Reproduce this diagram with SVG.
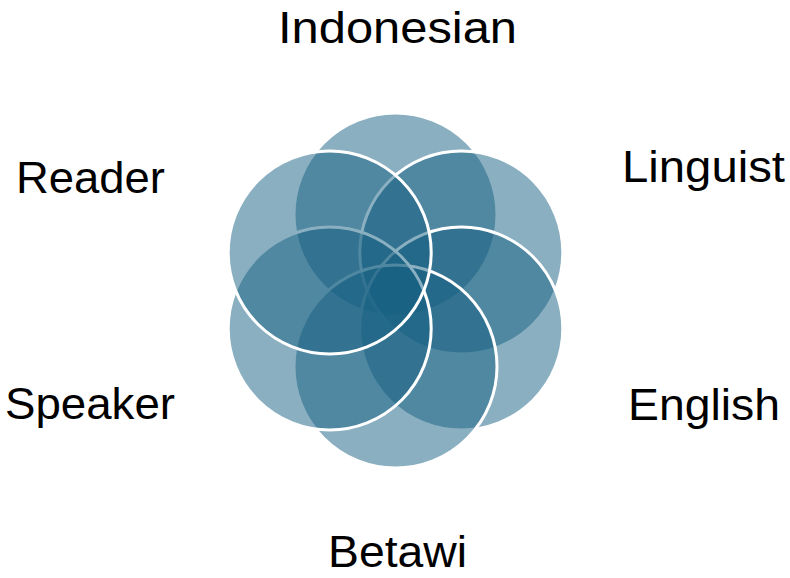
<svg xmlns="http://www.w3.org/2000/svg" width="790" height="578" viewBox="0 0 790 578">
<style>
.c{fill:#156082;fill-opacity:0.5;stroke:#ffffff;stroke-width:3}
.t{font-family:"Liberation Sans","Open Sans",sans-serif;font-size:44px;fill:#000000;text-anchor:middle}
</style>
<rect width="790" height="578" fill="#ffffff"/>
<g id="circles">
<g id="n-indonesian-circle"><circle class="c" cx="395.5" cy="214.5" r="101.5"/></g>
<g id="n-linguist-circle"><circle class="c" cx="461.3" cy="252.5" r="101.5"/></g>
<g id="n-english-circle"><circle class="c" cx="461.3" cy="328.5" r="101.5"/></g>
<g id="n-betawi-circle"><circle class="c" cx="395.5" cy="366.5" r="101.5"/></g>
<g id="n-speaker-circle"><circle class="c" cx="329.7" cy="328.5" r="101.5"/></g>
<g id="n-reader-circle"><circle class="c" cx="329.7" cy="252.5" r="101.5"/></g>
</g>
<g id="labels">
<g id="n-indonesian"><text class="t" x="397.5" y="43" textLength="239" lengthAdjust="spacingAndGlyphs">Indonesian</text></g>
<g id="n-reader"><text class="t" x="90.5" y="193" textLength="149" lengthAdjust="spacingAndGlyphs">Reader</text></g>
<g id="n-linguist"><text class="t" x="703.5" y="182" textLength="163" lengthAdjust="spacingAndGlyphs">Linguist</text></g>
<g id="n-speaker"><text class="t" x="90" y="419" textLength="170" lengthAdjust="spacingAndGlyphs">Speaker</text></g>
<g id="n-english"><text class="t" x="704" y="420" textLength="152" lengthAdjust="spacingAndGlyphs">English</text></g>
<g id="n-betawi"><text class="t" x="397.5" y="567" textLength="139" lengthAdjust="spacingAndGlyphs">Betawi</text></g>
</g>
</svg>
